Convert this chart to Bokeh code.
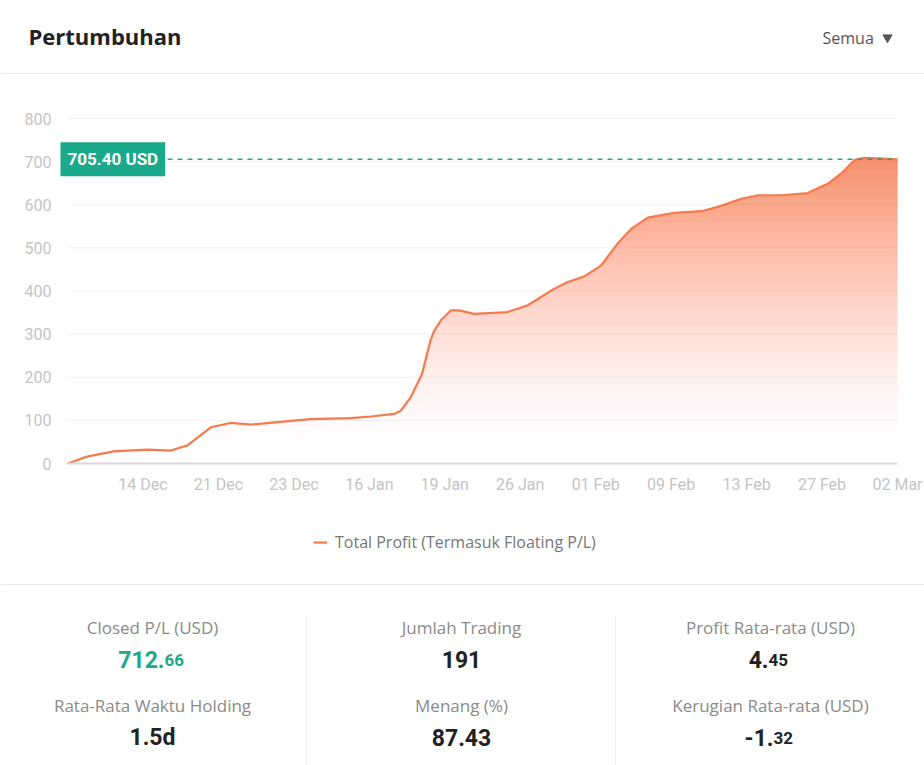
import numpy as np
from bokeh.plotting import figure
from bokeh.models import Range1d, FixedTicker, Label, Legend, LegendItem
from bokeh.core.properties import value
from bokeh.embed import file_html
from bokeh.resources import INLINE

# ---------------- data ----------------
tick_positions = [1, 2, 3, 4, 5, 6, 7, 8, 9, 10, 11]
tick_labels = ["14 Dec", "21 Dec", "23 Dec", "16 Jan", "19 Jan", "26 Jan",
               "01 Feb", "09 Feb", "13 Feb", "27 Feb", "02 Mar"]
y_ticks = [0, 100, 200, 300, 400, 500, 600, 700, 800]

profit_x = [0.00, 0.26, 0.61, 1.06, 1.37, 1.59, 1.90, 2.16, 2.43, 2.78, 3.22,
            3.75, 4.02, 4.33, 4.42, 4.55, 4.70, 4.81, 4.86, 4.95, 5.08, 5.19,
            5.39, 5.83, 6.10, 6.41, 6.63, 6.85, 7.07, 7.29, 7.47, 7.69, 8.04,
            8.40, 8.62, 8.93, 9.15, 9.46, 9.81, 10.08, 10.25, 10.43, 10.56,
            10.83, 11.00]
profit_y = [0, 16, 28, 32, 30, 42, 84, 94, 90, 96, 103,
            105, 109, 115, 123, 154, 208, 285, 308, 332, 355, 355,
            347, 351, 367, 401, 421, 434, 459, 510, 544, 570, 581,
            585, 595, 614, 622, 622, 627, 649, 672, 704, 709,
            707, 705.4]
last_value = 705.40

series_label = "Total Profit (Termasuk Floating P/L)"
title_text = "Pertumbuhan"
filter_text = "Semua"

stat_labels = ["Closed P/L (USD)", "Jumlah Trading", "Profit Rata-rata (USD)",
               "Rata-Rata Waktu Holding", "Menang (%)", "Kerugian Rata-rata (USD)"]
stat_main = ["712.", "191", "4.", "1.5d", "87.43", "-1."]
stat_small = ["66", "", "45", "", "", "32"]

# ---------------- layout constants (page px) ----------------
W, H = 924, 765
FL, FR, FT, FB = 67, 897, 118, 463     # chart area edges
X_MAX, Y_MAX = 11, 800
PXX = (FR - FL) / X_MAX                 # px per x unit
PXY = (FB - FT) / Y_MAX                 # px per y unit

def dx(X):
    return (X - FL) / PXX

def dy(Y):
    return (FB - Y) / PXY

ORANGE = "#f57a4c"
TEAL = "#1aa98a"

p = figure(width=W, height=H, x_range=Range1d(dx(0), dx(W)),
           y_range=Range1d(dy(H), dy(0)), title=None,
           toolbar_location=None, output_backend="svg", min_border=0,
           min_border_left=0, min_border_right=0, min_border_top=0,
           min_border_bottom=0, outline_line_color=None)
p.xgrid.visible = False
p.ygrid.visible = False

# horizontal grid lines at the y ticks, limited to the chart area
grid_y = [t for t in y_ticks if t > 0]
p.segment(x0=[0] * len(grid_y), x1=[X_MAX] * len(grid_y), y0=grid_y, y1=grid_y,
          line_color="#f2f2f2", line_width=1)

px = np.array(profit_x)
py = np.array(profit_y)

# gradient area via cumulative translucent layers
levels = np.arange(0, 720, 20)
def target(v):
    return 0.78 * (v / 705.0) ** 1.6
prev = 0.0
for L in levels:
    t = target(L + 10)
    a = 1 - (1 - t) / (1 - prev)
    prev = t
    if a <= 0:
        continue
    p.varea(x=px, y1=np.minimum(py, L), y2=py, fill_color=ORANGE,
            fill_alpha=float(a))

line = p.line(px, py, line_color=ORANGE, line_width=2.2)

# last value marker line + badge
p.segment(x0=[0], x1=[X_MAX], y0=[last_value], y1=[last_value],
          line_color=TEAL, line_dash="5 5", line_width=1.5)
p.add_layout(Label(x=0, y=last_value, x_offset=-7, text=f"{last_value:.2f} USD",
                   text_color="white", text_font="Roboto",
                   text_font_size="17px", text_font_style="bold",
                   text_baseline="middle", text_align="left",
                   background_fill_color=TEAL, padding=7))

# axes drawn at fixed locations inside the canvas
p.yaxis.fixed_location = 0
p.yaxis.ticker = FixedTicker(ticks=y_ticks)
p.yaxis.axis_line_color = None
p.yaxis.major_tick_line_color = None
p.yaxis.minor_tick_line_color = None
p.yaxis.major_label_standoff = 10
p.yaxis.major_label_text_color = "#c4c4c4"
p.yaxis.major_label_text_font = "Roboto"
p.yaxis.major_label_text_font_size = "16px"

p.xaxis.fixed_location = 0
p.xaxis.bounds = (0, X_MAX)
p.xaxis.ticker = FixedTicker(ticks=tick_positions)
p.xaxis.major_label_overrides = {k: v for k, v in zip(tick_positions, tick_labels)}
p.xaxis.axis_line_color = "#d9d9d9"
p.xaxis.axis_line_width = 2
p.xaxis.major_tick_line_color = None
p.xaxis.minor_tick_line_color = None
p.xaxis.major_label_standoff = 5
p.xaxis.major_label_text_color = "#c4c4c4"
p.xaxis.major_label_text_font = "Roboto"
p.xaxis.major_label_text_font_size = "16px"

legend = Legend(items=[LegendItem(label=series_label, renderers=[line])],
                location=(313, H - 553), border_line_color=None,
                background_fill_alpha=0, padding=0, margin=0,
                glyph_width=14, glyph_height=20, label_height=20,
                label_standoff=8, label_text_font="Open Sans",
                label_text_font_size="16px", label_text_color="#777777")
p.add_layout(legend)

# ---------------- separators ----------------
p.segment(x0=[dx(0), dx(0)], x1=[dx(W), dx(W)], y0=[dy(73), dy(584)],
          y1=[dy(73), dy(584)], line_color="#e9e9e9", line_width=1)
p.segment(x0=[dx(306), dx(615)], x1=[dx(306), dx(615)], y0=[dy(615), dy(615)],
          y1=[dy(H), dy(H)], line_color="#f0f0f0", line_width=1)

# ---------------- texts ----------------
def add_text(X, Y, text, size, color, font="Open Sans", style="normal",
             align="left", baseline="middle"):
    p.text(x=[dx(X)], y=[dy(Y)], text=[text], text_font=value(font),
           text_font_size=size, text_font_style=style, text_color=color,
           text_align=align, text_baseline=baseline)

add_text(28, 35, title_text, "22px", "#222222", style="bold")
add_text(822, 37, filter_text, "16px", "#555555")
p.scatter(x=[dx(887)], y=[dy(37)], marker="inverted_triangle", size=9,
          color="#555555")

col_x = [152, 461, 770]
label_Y = [627, 705]
value_Y = [659, 737]
split_X = [164, 461, 768, 152, 461, 773]
for i in range(6):
    c, r = i % 3, i // 3
    add_text(col_x[c], label_Y[r], stat_labels[i], "17px", "#8a8a8a",
             align="center")
    color = TEAL if i == 0 else "#222222"
    if stat_small[i]:
        add_text(split_X[i], value_Y[r], stat_main[i], "23px", color,
                 font="Roboto", style="bold", align="right",
                 baseline="alphabetic")
        add_text(split_X[i], value_Y[r], stat_small[i], "17px", color,
                 font="Roboto", style="bold", align="left",
                 baseline="alphabetic")
    else:
        add_text(col_x[c], value_Y[r], stat_main[i], "23px", color,
                 font="Roboto", style="bold", align="center",
                 baseline="alphabetic")

open("out.html", "w").write(file_html(p, INLINE))
